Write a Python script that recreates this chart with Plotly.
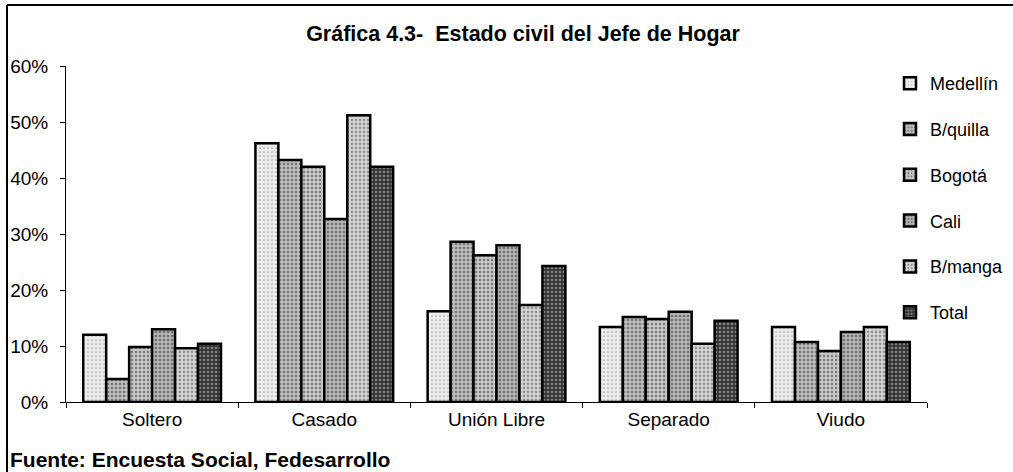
import plotly.graph_objects as go

categories = ["Soltero", "Casado", "Unión Libre", "Separado", "Viudo"]
series_names = ["Medellín", "B/quilla", "Bogotá", "Cali", "B/manga", "Total"]
medellin = [0.120, 0.462, 0.162, 0.134, 0.134]
bquilla = [0.041, 0.432, 0.286, 0.152, 0.107]
bogota = [0.098, 0.420, 0.262, 0.148, 0.091]
cali = [0.130, 0.327, 0.280, 0.161, 0.125]
bmanga = [0.096, 0.512, 0.173, 0.104, 0.134]
total = [0.104, 0.420, 0.243, 0.145, 0.107]
y_ticks = [0, 0.1, 0.2, 0.3, 0.4, 0.5, 0.6]
y_tick_labels = ["0%", "10%", "20%", "30%", "40%", "50%", "60%"]

values = [medellin, bquilla, bogota, cali, bmanga, total]
bgcolors = ["#ececec", "#bcbcbc", "#c8c8c8", "#b4b4b4", "#d2d2d2", "#333333"]
solidities = [0.15, 0.32, 0.3, 0.34, 0.26, 0.35]
fgcolors = ["#555555", "#2a2a2a", "#2a2a2a", "#2a2a2a", "#3a3a3a", "#d8d8d8"]

fig = go.Figure()
for i, (name, vals) in enumerate(zip(series_names, values)):
    fig.add_trace(go.Bar(
        x=categories, y=vals, name=name, legendgroup=name,
        marker=dict(
            color=bgcolors[i],
            line=dict(color="black", width=2.5),
            pattern=dict(shape=".", fgcolor=fgcolors[i], bgcolor=bgcolors[i],
                         size=4, solidity=solidities[i], fillmode="overlay"),
        ),
    ))

L, R, T, B = 66, 927, 66, 402
W, H = 1013, 472
pw, ph = R - L, B - T

def px_x(x):
    return (x - L) / pw

def px_y(y):
    return (B - y) / ph

FONT = "Liberation Sans, Arial, sans-serif"

fig.update_layout(
    width=W, height=H,
    margin=dict(l=L, r=W - R, t=T, b=H - B, autoexpand=False),
    paper_bgcolor="white", plot_bgcolor="white",
    font=dict(family=FONT, size=18, color="black"),
    barmode="group", bargap=0.2, bargroupgap=0.0,
    title=dict(text="<b>Gráfica 4.3-  Estado civil del Jefe de Hogar</b>",
               x=523 / W, xref="container", y=1 - 33 / H, yref="container",
               xanchor="center", yanchor="middle",
               font=dict(size=21.5, color="black")),
    showlegend=True,
    legend=dict(x=890 / W, xref="container", y=1 - 65 / H, yref="container",
                xanchor="left", yanchor="top",
                traceorder="grouped", tracegroupgap=19.4, maxheight=1,
                font=dict(size=18), bgcolor="rgba(0,0,0,0)", itemwidth=30),
    xaxis=dict(showline=True, linecolor="black", linewidth=1,
               ticks="outside", ticklen=5, tickcolor="black",
               tickson="boundaries", showgrid=False,
               tickfont=dict(size=19)),
    yaxis=dict(range=[0, 0.6], tickvals=y_ticks, ticktext=y_tick_labels,
               showline=True, linecolor="black", linewidth=1,
               ticks="outside", ticklen=5, tickcolor="black",
               showgrid=False, zeroline=False, ticklabelstandoff=8,
               tickfont=dict(size=19)),
    annotations=[dict(text="<b>Fuente: Encuesta Social, Fedesarrollo</b>",
                      x=px_x(9), xref="paper", y=px_y(472), yref="paper",
                      showarrow=False, xanchor="left", yanchor="bottom",
                      borderpad=0,
                      font=dict(size=21, color="black"))],
    shapes=[
        dict(type="line", xref="paper", yref="paper",
             x0=px_x(7), x1=px_x(W), y0=px_y(5), y1=px_y(5),
             line=dict(color="black", width=2)),
        dict(type="line", xref="paper", yref="paper",
             x0=px_x(7), x1=px_x(7), y0=px_y(5), y1=px_y(H),
             line=dict(color="black", width=2)),
    ],
)

fig.write_html("out.html",
               config={"displayModeBar": False},
               post_script="document.body.style.margin='0';document.body.style.padding='0';")
